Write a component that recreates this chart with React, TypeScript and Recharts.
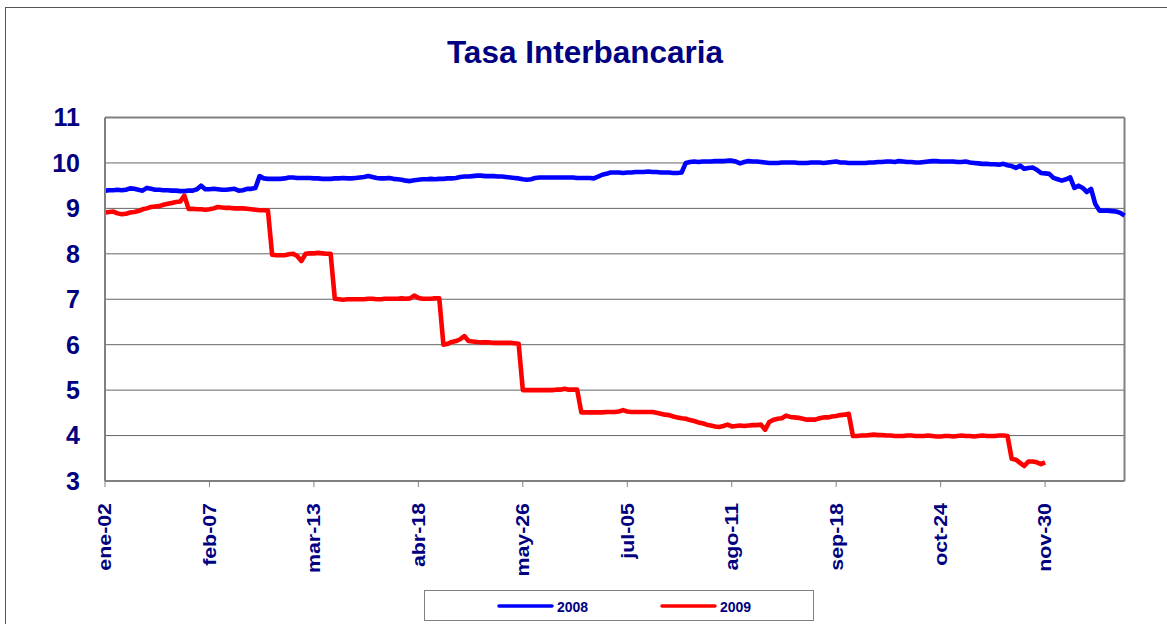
import {
  CartesianGrid,
  Legend,
  Line,
  LineChart,
  ReferenceLine,
  XAxis,
  YAxis,
} from "recharts";

// Tasa interbancaria diaria (días hábiles), 2008 vs 2009.

const FONT = "'Liberation Sans', Arial, Helvetica, sans-serif";
const NAVY = "#000080";
const GRIS = "#808080";

const etiquetas = [
  "ene-02", "feb-07", "mar-13", "abr-18", "may-26",
  "jul-05", "ago-11", "sep-18", "oct-24", "nov-30",
];
const PASO = 25; // días hábiles entre etiquetas
const valoresY = [3, 4, 5, 6, 7, 8, 9, 10, 11];

const tasa2008 = [
  9.39, 9.40, 9.40, 9.41, 9.40, 9.41, 9.44, 9.43, 9.41, 9.39, 9.45, 9.43, 9.41, 9.41, 9.40, 9.40, 9.39, 9.39, 9.38, 9.38, 9.39, 9.39, 9.42, 9.50, 9.42,
  9.42, 9.43, 9.42, 9.41, 9.41, 9.42, 9.43, 9.39, 9.40, 9.43, 9.43, 9.45, 9.71, 9.66, 9.65, 9.65, 9.65, 9.65, 9.66, 9.68, 9.68, 9.67, 9.67, 9.67, 9.67,
  9.66, 9.66, 9.65, 9.65, 9.65, 9.66, 9.66, 9.67, 9.66, 9.66, 9.67, 9.68, 9.69, 9.71, 9.69, 9.67, 9.66, 9.66, 9.67, 9.65, 9.64, 9.63, 9.61, 9.60, 9.62,
  9.63, 9.64, 9.64, 9.65, 9.64, 9.65, 9.65, 9.66, 9.66, 9.67, 9.69, 9.70, 9.70, 9.71, 9.72, 9.72, 9.71, 9.71, 9.71, 9.70, 9.70, 9.69, 9.68, 9.67, 9.66,
  9.64, 9.63, 9.64, 9.67, 9.68, 9.68, 9.68, 9.68, 9.68, 9.68, 9.68, 9.68, 9.68, 9.67, 9.67, 9.67, 9.67, 9.66, 9.70, 9.74, 9.76, 9.79, 9.79, 9.79, 9.78,
  9.79, 9.79, 9.80, 9.80, 9.80, 9.81, 9.80, 9.80, 9.79, 9.79, 9.79, 9.78, 9.78, 9.79, 10.00, 10.02, 10.03, 10.02, 10.03, 10.03, 10.03, 10.04, 10.04, 10.04, 10.05,
  10.05, 10.03, 9.99, 10.02, 10.04, 10.03, 10.03, 10.02, 10.01, 10.00, 10.00, 10.00, 10.01, 10.01, 10.01, 10.01, 10.00, 10.00, 10.00, 10.01, 10.01, 10.01, 10.00, 10.01, 10.02,
  10.03, 10.01, 10.01, 10.00, 10.00, 10.00, 10.00, 10.00, 10.01, 10.01, 10.02, 10.02, 10.03, 10.03, 10.02, 10.04, 10.03, 10.02, 10.02, 10.01, 10.01, 10.02, 10.03, 10.04, 10.04,
  10.03, 10.03, 10.03, 10.03, 10.02, 10.02, 10.03, 10.01, 10.00, 9.99, 9.98, 9.98, 9.97, 9.97, 9.96, 9.98, 9.95, 9.93, 9.89, 9.94, 9.87, 9.89, 9.90, 9.85, 9.78,
  9.77, 9.76, 9.67, 9.64, 9.61, 9.64, 9.68, 9.45, 9.50, 9.45, 9.36, 9.43, 9.10, 8.95, 8.95, 8.95, 8.94, 8.93, 8.90, 8.84,
];

const tasa2009 = [
  8.91, 8.92, 8.93, 8.89, 8.87, 8.88, 8.91, 8.92, 8.94, 8.98, 9.00, 9.03, 9.04, 9.05, 9.08, 9.10, 9.12, 9.14, 9.15, 9.28, 8.99, 8.99, 8.98, 8.98, 8.97,
  8.98, 9.00, 9.03, 9.02, 9.01, 9.01, 9.00, 9.00, 9.00, 8.99, 8.98, 8.97, 8.96, 8.96, 8.95, 7.98, 7.97, 7.97, 7.97, 7.99, 8.00, 7.95, 7.84, 8.00, 8.01,
  8.01, 8.02, 8.01, 8.00, 8.00, 7.01, 7.00, 6.99, 7.00, 7.00, 7.00, 7.00, 7.00, 7.01, 7.01, 7.00, 7.00, 7.01, 7.01, 7.01, 7.01, 7.02, 7.01, 7.02, 7.08,
  7.03, 7.01, 7.01, 7.01, 7.02, 7.02, 6.00, 6.02, 6.06, 6.08, 6.12, 6.19, 6.08, 6.07, 6.06, 6.05, 6.05, 6.05, 6.04, 6.04, 6.04, 6.04, 6.04, 6.03, 6.02,
  5.00, 5.00, 5.00, 5.00, 5.00, 5.00, 5.00, 5.00, 5.01, 5.01, 5.03, 5.01, 5.01, 5.01, 4.51, 4.51, 4.51, 4.51, 4.51, 4.51, 4.52, 4.52, 4.52, 4.53, 4.56,
  4.53, 4.52, 4.52, 4.52, 4.52, 4.52, 4.52, 4.50, 4.48, 4.46, 4.45, 4.42, 4.40, 4.38, 4.37, 4.34, 4.32, 4.29, 4.27, 4.24, 4.22, 4.20, 4.19, 4.21, 4.24,
  4.20, 4.21, 4.22, 4.21, 4.22, 4.23, 4.23, 4.24, 4.13, 4.30, 4.35, 4.37, 4.38, 4.44, 4.41, 4.40, 4.39, 4.37, 4.35, 4.35, 4.35, 4.38, 4.40, 4.40, 4.42,
  4.43, 4.45, 4.46, 4.48, 3.99, 3.99, 4.00, 4.00, 4.01, 4.02, 4.01, 4.01, 4.00, 4.00, 3.99, 3.99, 3.99, 4.00, 4.00, 3.99, 3.99, 3.99, 4.00, 3.99, 3.98,
  3.98, 3.99, 3.99, 3.98, 3.99, 4.00, 3.99, 3.99, 3.98, 3.99, 4.00, 3.99, 3.99, 3.99, 4.00, 4.00, 3.99, 3.49, 3.47, 3.40, 3.33, 3.43, 3.43, 3.41, 3.37, 3.41,
];

const data = tasa2008.map((v, i) => ({
  i,
  t2008: v,
  t2009: i < tasa2009.length ? tasa2009[i] : null,
}));
const marcas = etiquetas.map((_, k) => k * PASO);
const ultimo = tasa2008.length - 1;

function XTick({ x, y, payload }: any) {
  const label = etiquetas[Math.round(payload.value / PASO)] ?? "";
  return (
    <text
      x={0}
      y={0}
      transform={`translate(${x},${y}) rotate(-90) scale(1.22,1)`}
      textAnchor="end"
      dy="0.36em"
      fill={NAVY}
      fontSize={17.5}
      fontWeight="bold"
      fontFamily={FONT}
    >
      {label}
    </text>
  );
}

function Leyenda({ payload }: any) {
  return (
    <svg width={386} height={29} style={{ display: "block" }}>
      {(payload ?? []).map((p: any, k: number) => {
        const x0 = 74 + k * 163;
        return (
          <g key={p.value}>
            <line x1={x0} x2={x0 + 53} y1={15} y2={15} stroke={p.color} strokeWidth={3.5} strokeLinecap="round" />
            <text x={x0 + 58} y={20.7} fill={NAVY} fontSize={14} fontWeight="bold" fontFamily={FONT}>
              {p.value}
            </text>
          </g>
        );
      })}
    </svg>
  );
}

export default function App() {
  return (
    <div
      style={{
        position: "absolute",
        left: 0,
        top: 0,
        width: 1167,
        height: 624,
        overflow: "hidden",
        background: "#fff",
      }}
    >
      <LineChart
        width={1167}
        height={624}
        data={data}
        margin={{ top: 117.5, right: 42.5, bottom: 43, left: 45 }}
      >
        <CartesianGrid vertical={false} stroke="#666" />
        <XAxis
          dataKey="i"
          type="category"
          ticks={marcas}
          interval={0}
          height={100}
          tickSize={6}
          tickMargin={16}
          tick={<XTick />}
          tickLine={{ stroke: GRIS }}
          axisLine={{ stroke: GRIS, strokeWidth: 2 }}
        />
        <YAxis
          domain={[3, 11]}
          ticks={valoresY}
          interval={0}
          width={60}
          tickSize={0}
          tickMargin={25}
          tickLine={false}
          axisLine={{ stroke: GRIS, strokeWidth: 2 }}
          tick={{ fill: NAVY, fontSize: 25, fontWeight: "bold", fontFamily: FONT }}
        />
        <ReferenceLine y={11} stroke={GRIS} strokeWidth={2} />
        <ReferenceLine x={ultimo} stroke={GRIS} strokeWidth={2} />
        <Line
          dataKey="t2008"
          name="2008"
          stroke="#0000FF"
          strokeWidth={4.6}
          strokeLinejoin="round"
          dot={false}
          isAnimationActive={false}
        />
        <Line
          dataKey="t2009"
          name="2009"
          stroke="#FF0000"
          strokeWidth={4.6}
          strokeLinejoin="round"
          dot={false}
          isAnimationActive={false}
        />
        <Legend
          layout="horizontal"
          verticalAlign="middle"
          align="center"
          content={<Leyenda />}
          wrapperStyle={{
            left: 424,
            top: 590,
            width: 390,
            height: 31,
            border: "1px solid #808080",
            boxSizing: "border-box",
            background: "#fff",
          }}
        />
      </LineChart>
      <svg
        width={1167}
        height={624}
        style={{ position: "absolute", left: 0, top: 0, pointerEvents: "none" }}
      >
        <rect x={5.5} y={7.5} width={1300} height={800} fill="none" stroke="#555" />
        <text
          x={585}
          y={63}
          textAnchor="middle"
          fill={NAVY}
          fontSize={31.5}
          fontWeight="bold"
          fontFamily={FONT}
        >
          Tasa Interbancaria
        </text>
      </svg>
    </div>
  );
}
